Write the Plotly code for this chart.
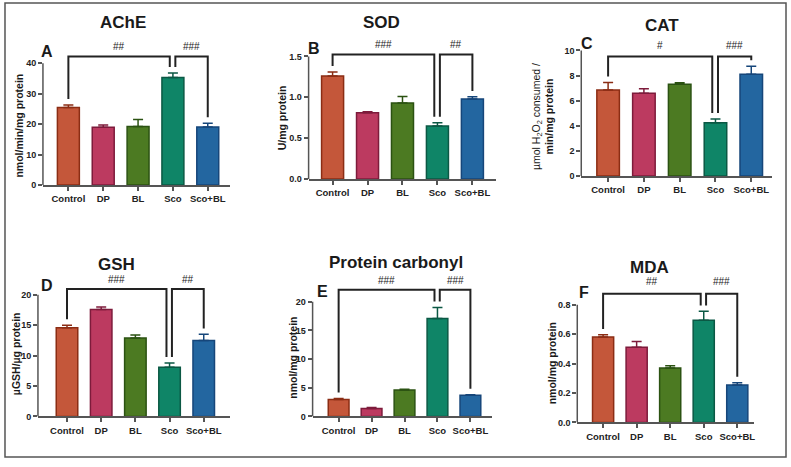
import plotly.graph_objects as go

W, H = 791, 467

categories = ["Control", "DP", "BL", "Sco", "Sco+BL"]

ache_mean = [25.5, 19.0, 19.2, 35.3, 19.1]
ache_err = [0.8, 0.7, 2.3, 1.5, 1.2]
sod_mean = [1.26, 0.81, 0.93, 0.65, 0.98]
sod_err = [0.05, 0.012, 0.08, 0.04, 0.025]
cat_mean = [6.85, 6.6, 7.3, 4.25, 8.1]
cat_err = [0.6, 0.35, 0.12, 0.3, 0.65]
gsh_mean = [14.6, 17.6, 12.9, 8.1, 12.5]
gsh_err = [0.4, 0.4, 0.5, 0.7, 1.0]
pc_mean = [2.95, 1.4, 4.6, 17.1, 3.7]
pc_err = [0.2, 0.15, 0.15, 1.9, 0.1]
mda_mean = [0.58, 0.51, 0.37, 0.695, 0.255]
mda_err = [0.015, 0.04, 0.015, 0.06, 0.015]

ache_ticks = [0, 10, 20, 30, 40]
sod_ticks = [0, 0.5, 1.0, 1.5]
sod_ticktext = ["0.0", "0.5", "1.0", "1.5"]
cat_ticks = [0, 2, 4, 6, 8, 10]
gsh_ticks = [0, 5, 10, 15, 20]
pc_ticks = [0, 5, 10, 15, 20]
mda_ticks = [0, 0.2, 0.4, 0.6, 0.8]
mda_ticktext = ["0.0", "0.2", "0.4", "0.6", "0.8"]

ache_sig = ["##", "###"]
sod_sig = ["###", "##"]
cat_sig = ["#", "###"]
gsh_sig = ["###", "##"]
pc_sig = ["###", "###"]
mda_sig = ["##", "###"]

fill_colors = ["#c4573a", "#bc3a60", "#4c7a22", "#0f8567", "#2366a0"]
edge_colors = ["#8b2d14", "#7d1b3b", "#2b5212", "#0b5844", "#16467a"]
AXIS = "#555555"
FONT = "Liberation Sans, Arial, sans-serif"

panels = [
    dict(title="AChE", letter="A", mean=ache_mean, err=ache_err, ticks=ache_ticks,
         ticktext=[str(t) for t in ache_ticks], ylabel="nmol/min/mg protein", sig=ache_sig,
         xpx=(43, 230), y0=187, ytop=64, xr=(-0.73, 4.63), brk=57, txt=47,
         title_xy=(123, 23), letter_xy=(47, 52), ylab_xy=(19, 127)),
    dict(title="SOD", letter="B", mean=sod_mean, err=sod_err, ticks=sod_ticks,
         ticktext=sod_ticktext, ylabel="U/mg protein", sig=sod_sig,
         xpx=(309, 497), y0=181, ytop=57, xr=(-0.686, 4.686), brk=55, txt=45,
         title_xy=(382, 23), letter_xy=(314, 49), ylab_xy=(282, 119)),
    dict(title="CAT", letter="C", mean=cat_mean, err=cat_err, ticks=cat_ticks,
         ticktext=[str(t) for t in cat_ticks],
         ylabel="<span style='font-weight:normal'>µmol H<sub>2</sub>O<sub>2</sub> consumed /</span><br>min/mg protein",
         sig=cat_sig,
         xpx=(582, 773), y0=178, ytop=51, xr=(-0.75, 4.58), brk=57, txt=46,
         title_xy=(663, 26), letter_xy=(588, 44), ylab_xy=(543, 118)),
    dict(title="GSH", letter="D", mean=gsh_mean, err=gsh_err, ticks=gsh_ticks,
         ticktext=[str(t) for t in gsh_ticks], ylabel="µGSH/µg protein", sig=gsh_sig,
         xpx=(38, 230), y0=421, ytop=298, xr=(-0.85, 4.76), brk=292, txt=283,
         title_xy=(117, 267), letter_xy=(47, 289), ylab_xy=(16, 357)),
    dict(title="Protein carbonyl", letter="E", mean=pc_mean, err=pc_err, ticks=pc_ticks,
         ticktext=[str(t) for t in pc_ticks], ylabel="nmol/mg protein", sig=pc_sig,
         xpx=(313, 493), y0=421, ytop=305, xr=(-0.79, 4.667), brk=293, txt=284,
         title_xy=(397, 265), letter_xy=(323, 295), ylab_xy=(293, 362)),
    dict(title="MDA", letter="F", mean=mda_mean, err=mda_err, ticks=mda_ticks,
         ticktext=mda_ticktext, ylabel="nmol/mg protein", sig=mda_sig,
         xpx=(578, 755), y0=427, ytop=308, xr=(-0.77, 4.5), brk=297, txt=285,
         title_xy=(650, 270), letter_xy=(585, 296), ylab_xy=(553, 367)),
]

fig = go.Figure()
shapes = []
annotations = []
layout_axes = {}


def label(x, y, text, size, bold=True, angle=0):
    return dict(xref="paper", yref="paper", x=x / W, y=1 - y / H, text=text,
                xanchor="center", yanchor="middle", textangle=angle, showarrow=False,
                font=dict(family=FONT, size=size, color="#1a1a1a",
                          weight="bold" if bold else "normal"))


for i, p in enumerate(panels):
    n = "" if i == 0 else str(i + 1)
    xa, ya = "x" + n, "y" + n
    ymax = p["ticks"][-1]
    unit = ymax / (p["y0"] - p["ytop"])  # data units per pixel
    dtop = p["txt"] - 9
    rtop = (p["y0"] - dtop) * unit

    for j, cat in enumerate(categories):
        fig.add_trace(go.Bar(
            x=[cat], y=[p["mean"][j]], width=0.63,
            marker=dict(color=fill_colors[j], line=dict(color=edge_colors[j], width=1.5)),
            error_y=dict(type="data", array=[p["err"][j]], arrayminus=[0], symmetric=False,
                         color=edge_colors[j], thickness=1.5, width=5),
            xaxis=xa, yaxis=ya, showlegend=False, hoverinfo="skip",
        ))

    layout_axes["xaxis" + n] = dict(
        domain=[p["xpx"][0] / W, p["xpx"][1] / W], anchor=ya,
        type="category", categoryarray=categories, range=list(p["xr"]),
        showline=True, linecolor=AXIS, linewidth=1.5, ticks="outside", ticklen=4,
        tickwidth=1.5, tickcolor=AXIS, showgrid=False, zeroline=False,
        tickfont=dict(family=FONT, size=9.5, color="#222", weight="bold"),
    )
    layout_axes["yaxis" + n] = dict(
        domain=[1 - p["y0"] / H, 1 - dtop / H], anchor=xa, range=[0, rtop],
        tickvals=p["ticks"], ticktext=p["ticktext"], showline=False,
        ticks="outside", ticklen=4, tickwidth=1.5, tickcolor=AXIS,
        showgrid=False, zeroline=False,
        tickfont=dict(family=FONT, size=9, color="#222", weight="bold"),
    )

    # y axis line from 0 to last tick
    shapes.append(dict(type="line", xref=xa + " domain", yref=ya, x0=0, x1=0, y0=0, y1=ymax,
                       line=dict(color=AXIS, width=1.5)))

    # significance brackets
    top = (p["y0"] - p["brk"]) * unit
    gap = 6 * unit
    tops = [m + e for m, e in zip(p["mean"], p["err"])]
    pairs = [((0, 0.0), (3, -0.09)), ((3, 0.07), (4, 0.0))]
    for k, ((a, da), (b, db)) in enumerate(pairs):
        xa0, xb0 = a + da, b + db
        path = f"M {xa0},{tops[a] + gap} L {xa0},{top} L {xb0},{top} L {xb0},{tops[b] + gap}"
        shapes.append(dict(type="path", xref=xa, yref=ya, path=path,
                           line=dict(color="#222", width=2)))
        annotations.append(dict(xref=xa, yref=ya, x=(xa0 + xb0) / 2,
                                y=(p["y0"] - p["txt"]) * unit, text=p["sig"][k],
                                xanchor="center", yanchor="middle", showarrow=False,
                                font=dict(family=FONT, size=10, color="#222")))

    annotations.append(label(*p["title_xy"], p["title"], 17))
    annotations.append(label(*p["letter_xy"], p["letter"], 16))
    annotations.append(label(*p["ylab_xy"], p["ylabel"], 10.5, angle=-90))

# outer frame
shapes.append(dict(type="rect", xref="paper", yref="paper", x0=5 / W, x1=787 / W,
                   y0=1 - 462 / H, y1=1 - 3 / H, line=dict(color="#555", width=1.5)))

fig.update_layout(
    width=W, height=H, margin=dict(l=0, r=0, t=0, b=0),
    plot_bgcolor="white", paper_bgcolor="white",
    showlegend=False, barmode="overlay",
    shapes=shapes, annotations=annotations,
    font=dict(family=FONT),
    **layout_axes,
)

fig.write_html("out.html", config={"displayModeBar": False},
               post_script="document.body.style.margin='0';")
